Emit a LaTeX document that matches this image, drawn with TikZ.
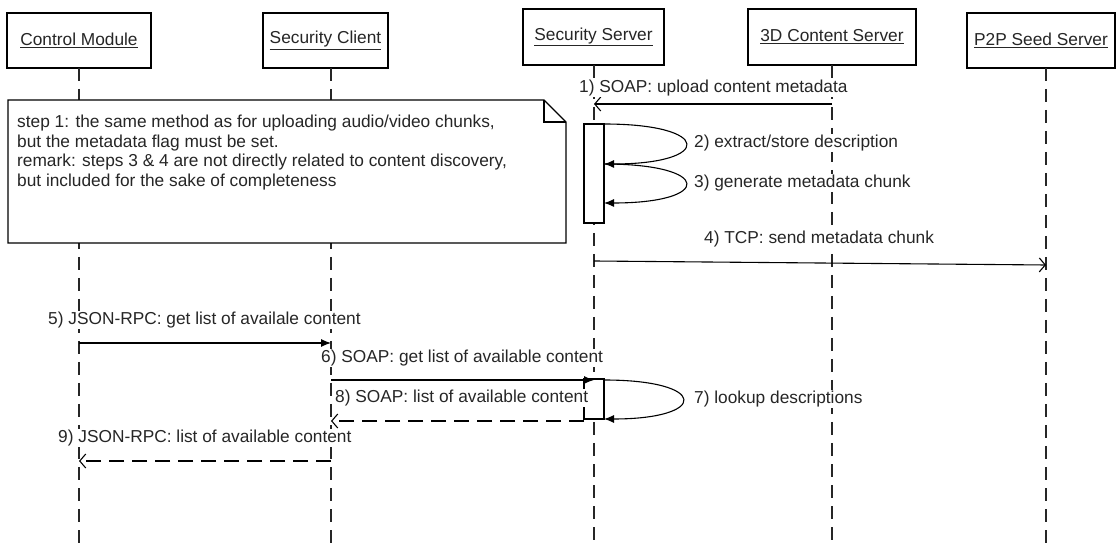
\documentclass[tikz,border=0pt]{standalone}
\usepackage{fontspec}
\setmainfont{Liberation Sans}
\usetikzlibrary{arrows.meta}
\begin{document}
\begin{tikzpicture}[x=1pt,y=-1pt,
  font=\fontsize{17.3}{19.5}\selectfont,
  actor/.style={draw=black, line width=1.3pt, fill=white, inner sep=0pt, text=black!85},
  life/.style={draw=black!85, line width=1.1pt, dash pattern=on 13pt off 8pt},
  msg/.style={draw=black, line width=1.1pt},
  syncm/.style={msg, -{Latex[length=10pt,width=8pt]}},
  async/.style={msg, -{Straight Barb[length=6pt,width=14pt]}},
  ret/.style={async, dash pattern=on 15pt off 8pt},
  lbl/.style={anchor=west, fill=white, inner sep=1pt, text=black!85},
  act/.style={draw=black, line width=1.1pt, fill=white, inner sep=0pt},
  notebox/.style={draw=black, line width=1.3pt, fill=white}]
\path[use as bounding box] (0,0) rectangle (1120,545);

% actors
\node[actor, minimum width=144pt, minimum height=55pt] (cm) at (79,40.5) {\underline{Control Module}};
\node[actor, minimum width=125pt, minimum height=55pt] (sc) at (325.5,40.5) {\underline{Security Client}};
\node[actor, minimum width=141pt, minimum height=56pt] (ss) at (593.5,37) {\underline{Security Server}};
\node[actor, minimum width=168pt, minimum height=56pt] (cs) at (832,37) {\underline{3D Content Server}};
\node[actor, minimum width=148pt, minimum height=55pt] (ps) at (1041,40.5) {\underline{P2P Seed Server}};

% lifelines
\coordinate (cmT) at (79,68);   \coordinate (cmB) at (79,545);
\coordinate (scT) at (331,68);  \coordinate (scB) at (331,545);
\coordinate (ssT) at (594,65);  \coordinate (ssB) at (594,545);
\coordinate (csT) at (832,65);  \coordinate (csB) at (832,545);
\coordinate (psT) at (1046,68); \coordinate (psB) at (1046,545);
\draw[life] (cmT) -- (cmB);
\draw[life] (scT) -- (scB);
\draw[life] (ssT) -- (ssB);
\draw[life] (csT) -- (csB);
\draw[life] (psT) -- (psB);

% note
\draw[notebox] (8,100) -- (544,100) -- (566,122) -- (566,243) -- (8,243) -- cycle;
\draw[line width=1.1pt] (544,100) -- (544,122) -- (566,122);
\node[anchor=north west, inner sep=0pt, align=left, text=black!85] (note) at (17,115)
  {step 1: the same method as for uploading audio/video chunks,\\
   but the metadata flag must be set.\\
   remark: steps 3 \& 4 are not directly related to content discovery,\\
   but included for the sake of completeness};

% activations
\node[act, minimum width=20pt, minimum height=99pt] (a1) at (594,173.5) {};
\node[act, minimum width=20pt, minimum height=40pt] (a2) at (594,399) {};

% message end points
\coordinate (m1a) at (832,104);  \coordinate (m1b) at (594,104);
\coordinate (m2a) at (604,124);  \coordinate (m2b) at (604,164);
\coordinate (m3b) at (604,203);
\coordinate (m4a) at (594,261);  \coordinate (m4b) at (1046,265);
\coordinate (m5a) at (79,343);   \coordinate (m5b) at (331,343);
\coordinate (m6a) at (331,380);  \coordinate (m6b) at (594,380);
\coordinate (m7a) at (604,380);  \coordinate (m7b) at (604,419);
\coordinate (m8a) at (584,421);  \coordinate (m8b) at (331,421);
\coordinate (m9a) at (331,461);  \coordinate (m9b) at (79,461);

% messages
\draw[async] (m1a) -- (m1b);
\draw[syncm] (m2a) .. controls (713,124) and (713,164) .. (m2b);
\draw[syncm] (m2b) .. controls (713,164) and (713,203) .. (m3b);
\draw[async] (m4a) -- (m4b);
\draw[syncm] (m5a) -- (m5b);
\draw[syncm] (m6a) -- (m6b);
\draw[syncm] (m7a) .. controls (709,380) and (709,419) .. (m7b);
\draw[ret] (m8a) -- (m8b);
\draw[ret] (m9a) -- (m9b);

% labels
\node[lbl] (l1) at (578,88) {1) SOAP: upload content metadata};
\node[lbl] (l2) at (693,143) {2) extract/store description};
\node[lbl] (l3) at (693,183) {3) generate metadata chunk};
\node[lbl] (l4) at (703,239) {4) TCP: send metadata chunk};
\node[lbl] (l5) at (47,320) {5) JSON-RPC: get list of availale content};
\node[lbl] (l6) at (320,358) {6) SOAP: get list of available content};
\node[lbl] (l7) at (693,399) {7) lookup descriptions};
\node[lbl] (l8) at (334,398) {8) SOAP: list of available content};
\node[lbl] (l9) at (57,438) {9) JSON-RPC: list of available content};
\end{tikzpicture}
\end{document}
